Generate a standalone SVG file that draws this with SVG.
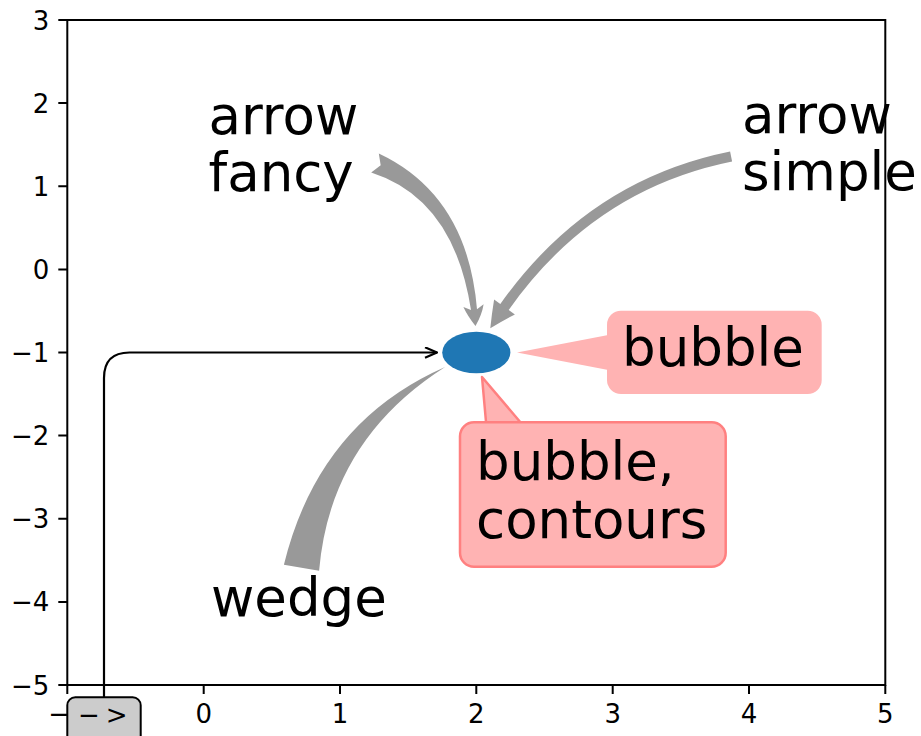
<svg xmlns="http://www.w3.org/2000/svg" width="921" height="736" viewBox="0 0 921 736">
<style>
  .tk{stroke:#000;stroke-width:2;fill:none}
  .tl{font-family:"DejaVu Sans","Liberation Sans",sans-serif;font-size:26px;fill:#000}
  .big{font-family:"DejaVu Sans","Liberation Sans",sans-serif;font-size:53px;fill:#000}
  .gray{fill:#999999;stroke:none}
  .pink{fill:#ffb3b3}
  .pinkedge{stroke:#ff8080;stroke-width:2.5;stroke-linejoin:round}
</style>
<defs>
  <marker id="open" viewBox="0 0 14 12" refX="13" refY="6" markerWidth="14" markerHeight="12" markerUnits="userSpaceOnUse" orient="auto">
    <path d="M1,0.8 L13,6 L1,11.2" fill="none" stroke="#000" stroke-width="2.2"/>
  </marker>
</defs>
<rect width="921" height="736" fill="#fff"/>
<g id="axes">
  <rect x="67.3" y="20" width="818" height="665" class="tk"/>
  <path class="tk" d="M67.3,685v9M203.7,685v9M340,685v9M476.3,685v9M612.7,685v9M749,685v9M885.3,685v9
    M67.3,20h-9M67.3,103.1h-9M67.3,186.25h-9M67.3,269.4h-9M67.3,352.5h-9M67.3,435.6h-9M67.3,518.75h-9M67.3,601.9h-9M67.3,685h-9"/>
  <g class="tl" text-anchor="end">
    <text x="49.3" y="29.5">3</text>
    <text x="49.3" y="112.6">2</text>
    <text x="49.3" y="195.75">1</text>
    <text x="49.3" y="278.9">0</text>
    <text x="49.3" y="362">−1</text>
    <text x="49.3" y="445.1">−2</text>
    <text x="49.3" y="528.25">−3</text>
    <text x="49.3" y="611.4">−4</text>
    <text x="49.3" y="694.5">−5</text>
  </g>
  <g class="tl" text-anchor="middle">
    <text x="67.3" y="723">−1</text>
    <text x="203.7" y="723">0</text>
    <text x="340" y="723">1</text>
    <text x="476.3" y="723">2</text>
    <text x="612.7" y="723">3</text>
    <text x="749" y="723">4</text>
    <text x="885.3" y="723">5</text>
  </g>
</g>
<g id="connectors">
  <path id="conn-fancy" class="gray" d="M380.7,165.3 L378.8,153.5 Q467.44,195.16 477,309.3 L483.62,304.29 Q481.9,314.96 475.5,326 Q467.66,316.05 463.38,306.91 L471,310.1 Q453.96,198.94 371.2,172.5 Z"/>
  <path id="conn-simple" class="gray" d="M732.1,161.5 Q593.7,189.5 508.7,309.9 L514.9,314.4 Q502.6,320.7 490.3,328.25 Q491.8,313.9 494.1,299.6 L500.3,304.1 Q587.7,180.3 730.1,151.5 Z"/>
  <path id="conn-wedge" class="gray" d="M283.9,564.7 Q318.7,422.6 445.1,367.1 Q330.1,440.4 319.1,570.7 Z"/>
  <path id="conn-bubble" class="pink" d="M517,352.5 L650,327 L650,378 Z"/>
  <path id="conn-bubble-contours" class="pink pinkedge" d="M482,377 L536.5,441.3 L489.5,461.1 Z"/>
  <path id="conn-angle" d="M104,700 L104,378 Q104,352.5 129.5,352.5 L437,352.5" fill="none" stroke="#000" stroke-width="2.2" marker-end="url(#open)"/>
</g>
<g id="ellipse">
  <ellipse cx="476.3" cy="352.5" rx="34.1" ry="20.8" fill="#1f77b4"/>
</g>
<g id="arrow-fancy">
  <text class="big" x="208.5" y="134">arrow</text>
  <text class="big" x="208.5" y="191">fancy</text>
</g>
<g id="arrow-simple">
  <text class="big" x="742" y="133">arrow</text>
  <text class="big" x="742" y="190">simple</text>
</g>
<g id="wedge">
  <text class="big" x="211" y="616">wedge</text>
</g>
<g id="bubble">
  <rect class="pink" x="607" y="310.7" width="214.7" height="83.3" rx="14"/>
  <text class="big" x="622" y="366">bubble</text>
</g>
<g id="bubble-contours">
  <rect class="pink pinkedge" x="460" y="422.3" width="265.7" height="144.4" rx="14"/>
  <text class="big" x="476" y="480">bubble,</text>
  <text class="big" x="476" y="538">contours</text>
</g>
<g id="arrow-box">
  <rect x="67.3" y="697.3" width="73.4" height="50" rx="8" fill="#cccccc" stroke="#000" stroke-width="2"/>
  <text class="tl" x="78" y="724">−<tspan dx="6">&gt;</tspan></text>
</g>
</svg>
